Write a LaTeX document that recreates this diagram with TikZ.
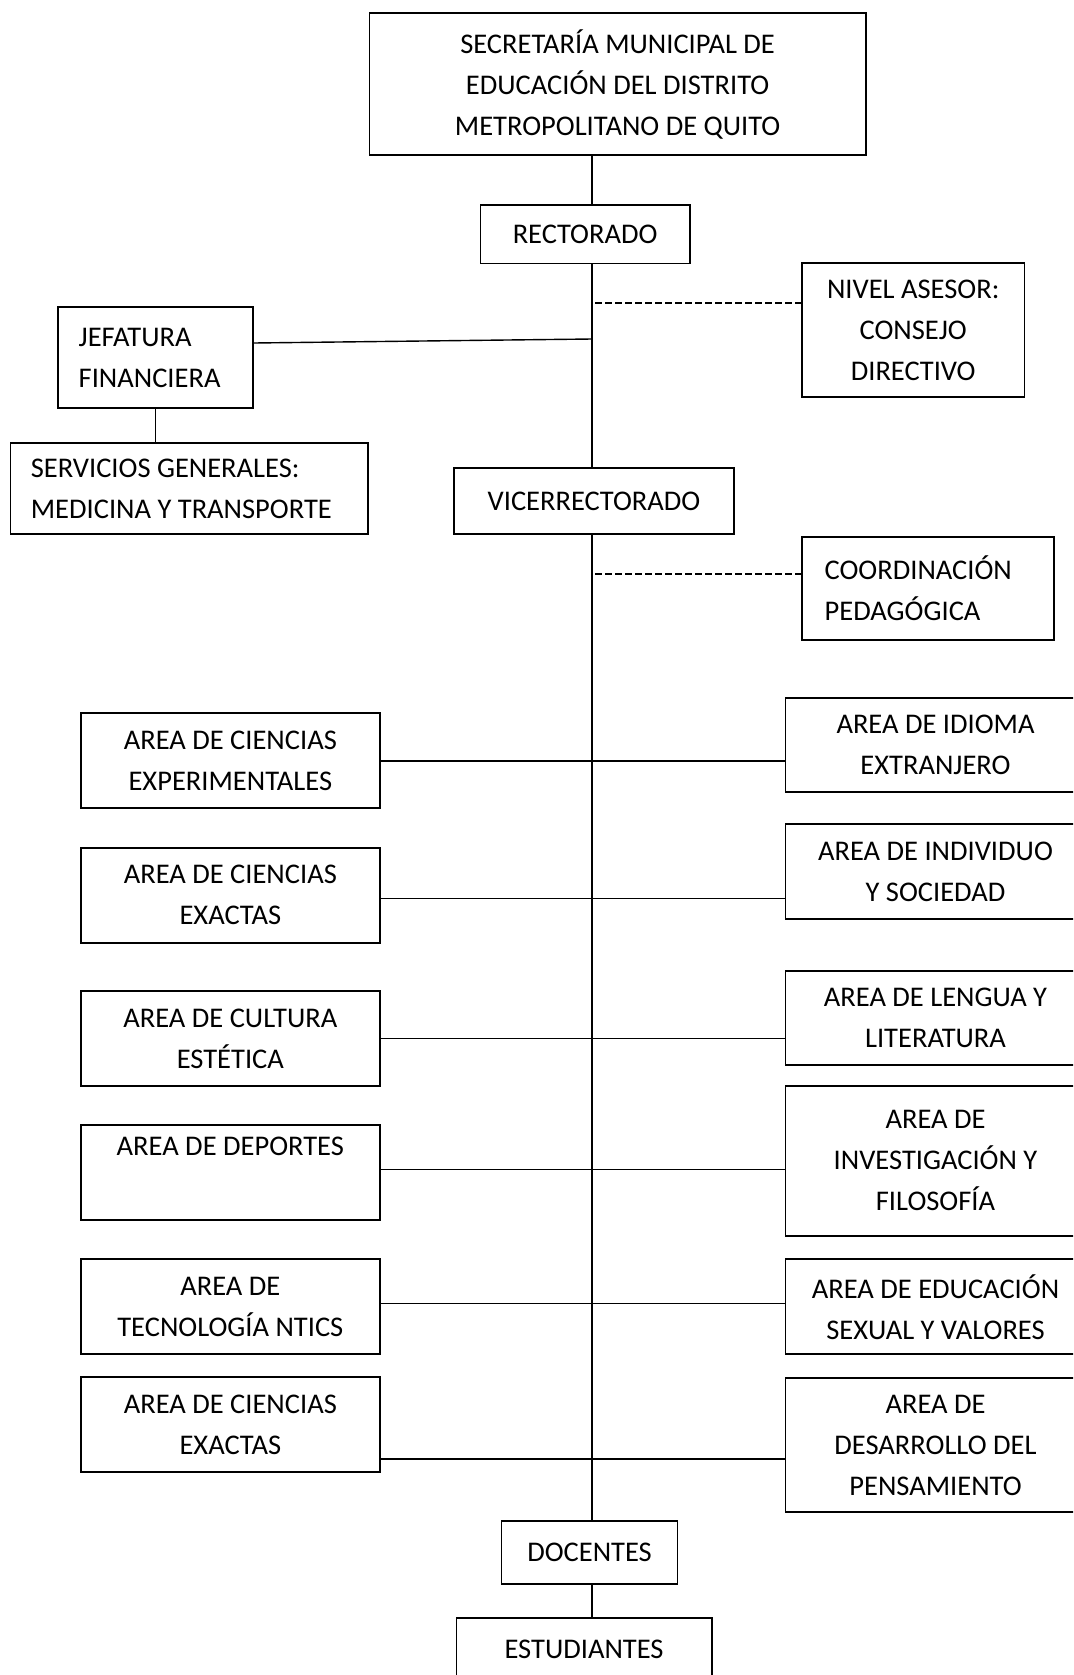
\documentclass[tikz,border=0pt]{standalone}
\usepackage{fontspec}
\setmainfont{Carlito}
\begin{document}
\begin{tikzpicture}[x=0.5pt,y=-0.5pt,
  box/.style={draw, line width=0.85pt, inner sep=0pt, align=center,
    font=\fontsize{14.25pt}{20.5pt}\selectfont},
  lbox/.style={box, align=flush left},
  ln/.style={line width=0.7pt},
  dl/.style={line width=0.9pt, dash pattern=on 3.3pt off 1.7pt}]
\useasboundingbox (0,0) rectangle (1073,1675);
\clip (0,0) rectangle (1073,1675);
% top part
\node[box, minimum width=248.1pt, minimum height=70.85pt] (top) at (617.6,84.2)
  {SECRETARÍA MUNICIPAL DE\\EDUCACIÓN DEL DISTRITO\\METROPOLITANO DE QUITO};
\node[box, minimum width=104.7pt, minimum height=29.15pt] (rect) at (585.1,234.2) {RECTORADO};
\node[box, minimum width=111.2pt, minimum height=66.7pt] (nivel) at (913.2,330) {NIVEL ASESOR:\\CONSEJO\\DIRECTIVO};
\node[lbox, text width=76.8pt, inner xsep=10.35pt, minimum height=50.5pt] (jef) at (155.5,357.5) {JEFATURA\\FINANCIERA};
\node[lbox, text width=158.35pt, inner xsep=10.25pt, minimum height=45.8pt] (serv) at (189.2,488.5) {SERVICIOS GENERALES:\\MEDICINA Y TRANSPORTE};
\node[box, minimum width=140.3pt, minimum height=33pt] (vice) at (594,501.3) {VICERRECTORADO};
\node[lbox, text width=103.35pt, inner xsep=11.3pt, minimum height=51.65pt] (coord) at (928,588.3) {COORDINACIÓN\\PEDAGÓGICA};
% areas
\tikzset{la/.style={box, minimum width=149.65pt, minimum height=47.5pt},
         ra/.style={box, minimum width=149.9pt}}
\node[la] (L1) at (230.35,760.8) {AREA DE CIENCIAS\\EXPERIMENTALES};
\node[ra, minimum height=47pt] (R1) at (935.5,744.7) {AREA DE IDIOMA\\EXTRANJERO};
\node[la] (L2) at (230.35,895.2) {AREA DE CIENCIAS\\EXACTAS};
\node[ra, minimum height=47.35pt] (R2) at (935.5,871.65) {AREA DE INDIVIDUO\\Y SOCIEDAD};
\node[la] (L3) at (230.35,1038.5) {AREA DE CULTURA\\ESTÉTICA};
\node[ra, minimum height=47.15pt] (R3) at (935.5,1017.85) {AREA DE LENGUA Y\\LITERATURA};
\node[la] (L4) at (230.35,1172.5) {AREA DE DEPORTES\\\strut};
\node[ra, minimum height=75.15pt] (R4) at (935.5,1160.85) {AREA DE\\INVESTIGACIÓN Y\\FILOSOFÍA};
\node[la] (L5) at (230.35,1306.8) {AREA DE\\TECNOLOGÍA NTICS};
\node[ra, minimum height=47.5pt] (R5) at (935.5,1306.8) {AREA DE EDUCACIÓN\\SEXUAL Y VALORES};
\node[la] (L6) at (230.35,1424.5) {AREA DE CIENCIAS\\EXACTAS};
\node[ra, minimum height=67.3pt] (R6) at (935.5,1445) {AREA DE\\DESARROLLO DEL\\PENSAMIENTO};
% bottom
\node[box, minimum width=87.95pt, minimum height=31.65pt] (doc) at (589.55,1552.65) {DOCENTES};
\node[box, minimum width=127.65pt, minimum height=31.65pt] (est) at (584.05,1649.35) {ESTUDIANTES};
% spine
\coordinate (sx) at (592,0);
\draw[ln] (top.south -| sx) -- (rect.north -| sx);
\draw[ln] (rect.south -| sx) -- (vice.north -| sx);
\draw[ln] (vice.south -| sx) -- (doc.north -| sx);
\draw[ln] (doc.south -| sx) -- (est.north -| sx);
% jefatura
\coordinate (jA) at ([yshift=7.25pt]jef.east);
\coordinate (jB) at (592,339);
\draw[ln] (jA) -- (jB);
\draw[ln] (jef.south) -- (serv.north -| jef.south);
% dashed advisory links
\coordinate (dA) at (595,303.3);
\draw[dl] (dA) -- (nivel.west |- dA);
\coordinate (dB) at (595,574);
\draw[dl] (dB) -- (coord.west |- dB);
% area rows
\coordinate (j1) at (L1.east);
\coordinate (j2) at ([yshift=-1.75pt]L2.east);
\coordinate (j3) at (L3.east);
\coordinate (j4) at ([yshift=1.6pt]L4.east);
\coordinate (j5) at ([yshift=1.55pt]L5.east);
\coordinate (j6) at ([yshift=6.85pt]L6.south east);
\foreach \i in {1,...,6} {\draw[ln] (j\i) -- (R\i.west |- j\i);}
\end{tikzpicture}
\end{document}
